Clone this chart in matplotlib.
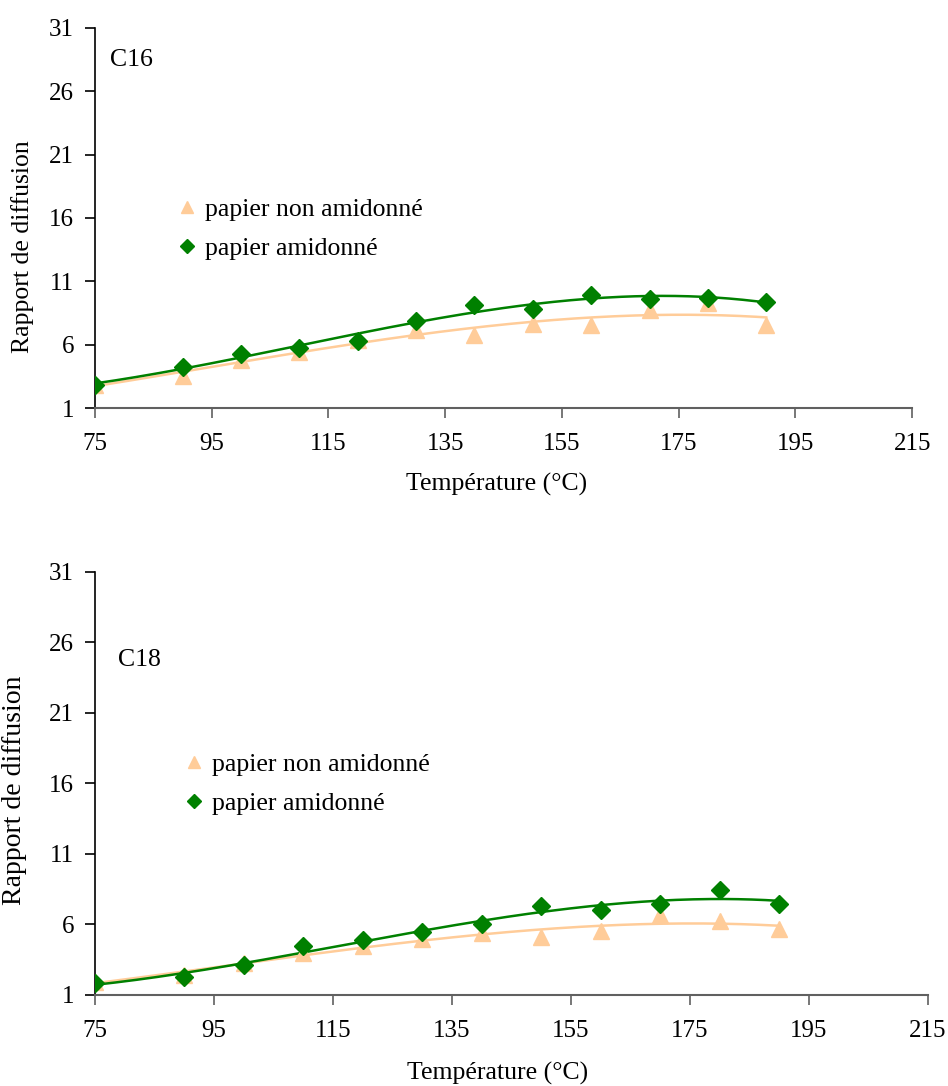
import numpy as np
import matplotlib
matplotlib.use("Agg")
import matplotlib.pyplot as plt

plt.rcParams['font.family'] = ['Liberation Serif', 'DejaVu Serif']

temperature = [75, 90, 100, 110, 120, 130, 140, 150, 160, 170, 180, 190]

# C16
c16_non_amidonne = [2.8, 3.5, 4.8, 5.45, 6.4, 7.15, 6.8, 7.6, 7.55, 8.7, 9.3, 7.55]
c16_amidonne = [2.85, 4.25, 5.25, 5.75, 6.3, 7.9, 9.15, 8.8, 9.95, 9.6, 9.7, 9.4]

# C18
c18_non_amidonne = [1.9, 2.45, 3.25, 3.95, 4.5, 4.95, 5.4, 5.12, 5.55, 6.64, 6.27, 5.67]
c18_amidonne = [1.83, 2.3, 3.1, 4.45, 4.88, 5.45, 6.0, 7.3, 7.0, 7.43, 8.43, 7.43]

x_ticks = [75, 95, 115, 135, 155, 175, 195, 215]
y_ticks = [1, 6, 11, 16, 21, 26, 31]

labels = ['papier non amidonné', 'papier amidonné']

ORANGE = '#FFCC99'
GREEN = '#008000'
LABEL_SIZE = 18.5
TICK_SIZE = 18


def trend(x, y, deg=3):
    # courbe de tendance polynomiale (comme Excel)
    coef = np.polyfit(x, y, deg)
    xs = np.linspace(min(x), max(x), 200)
    return xs, np.polyval(coef, xs)


def draw_panel(ax, non_am, am, title, title_pos, leg_pos, ylab_pos, xlab_pos,
               ylab_size):
    xs, ys = trend(temperature, non_am)
    ax.plot(xs, ys, color=ORANGE, linewidth=1.8, zorder=2)
    xs, ys = trend(temperature, am)
    ax.plot(xs, ys, color=GREEN, linewidth=1.8, zorder=3)

    ax.plot(temperature, non_am, linestyle='none', marker='^', markersize=11.5,
            color=ORANGE, label=labels[0], zorder=4)
    ax.plot(temperature, am, linestyle='none', marker='D', markersize=9,
            color=GREEN, label=labels[1], zorder=5)

    ax.set_xlim(75, 215)
    ax.set_ylim(1, 31)
    ax.set_xticks(x_ticks)
    ax.set_yticks(y_ticks)
    ax.tick_params(axis='both', labelsize=TICK_SIZE, length=7, width=1.2,
                   direction='out')
    ax.tick_params(axis='x', pad=11, color='#606060')
    ax.tick_params(axis='y', pad=8)

    ax.spines['top'].set_visible(False)
    ax.spines['right'].set_visible(False)
    ax.spines['bottom'].set_color('#606060')
    ax.spines['bottom'].set_linewidth(1.5)
    ax.spines['left'].set_linewidth(1.2)

    ax.set_xlabel('Température (°C)', fontsize=LABEL_SIZE)
    ax.set_ylabel('Rapport de diffusion', fontsize=ylab_size)
    ax.xaxis.set_label_coords(*xlab_pos)
    ax.yaxis.set_label_coords(*ylab_pos)

    ax.text(title_pos[0], title_pos[1], title, transform=ax.transAxes,
            fontsize=LABEL_SIZE, va='center', ha='left')

    ax.legend(loc='upper left', bbox_to_anchor=leg_pos, frameon=False,
              fontsize=LABEL_SIZE, handlelength=0.8, handletextpad=0.3,
              labelspacing=0.65, borderpad=0, borderaxespad=0,
              markerscale=0.75)


fig = plt.figure(figsize=(9.48, 10.86), dpi=100)

ax1 = fig.add_axes([0.1002, 0.6243, 0.862, 0.35])
draw_panel(ax1, c16_non_amidonne, c16_amidonne, 'C16',
           (0.018, 0.916), (0.1, 0.553), (-0.075, 0.424), (0.492, -0.171),
           LABEL_SIZE)

ax2 = fig.add_axes([0.1002, 0.0838, 0.8787, 0.3895])
draw_panel(ax2, c18_non_amidonne, c18_amidonne, 'C18',
           (0.028, 0.792), (0.106, 0.573), (-0.082, 0.485), (0.483, -0.158),
           20)

fig.savefig('out.png', dpi=100)
